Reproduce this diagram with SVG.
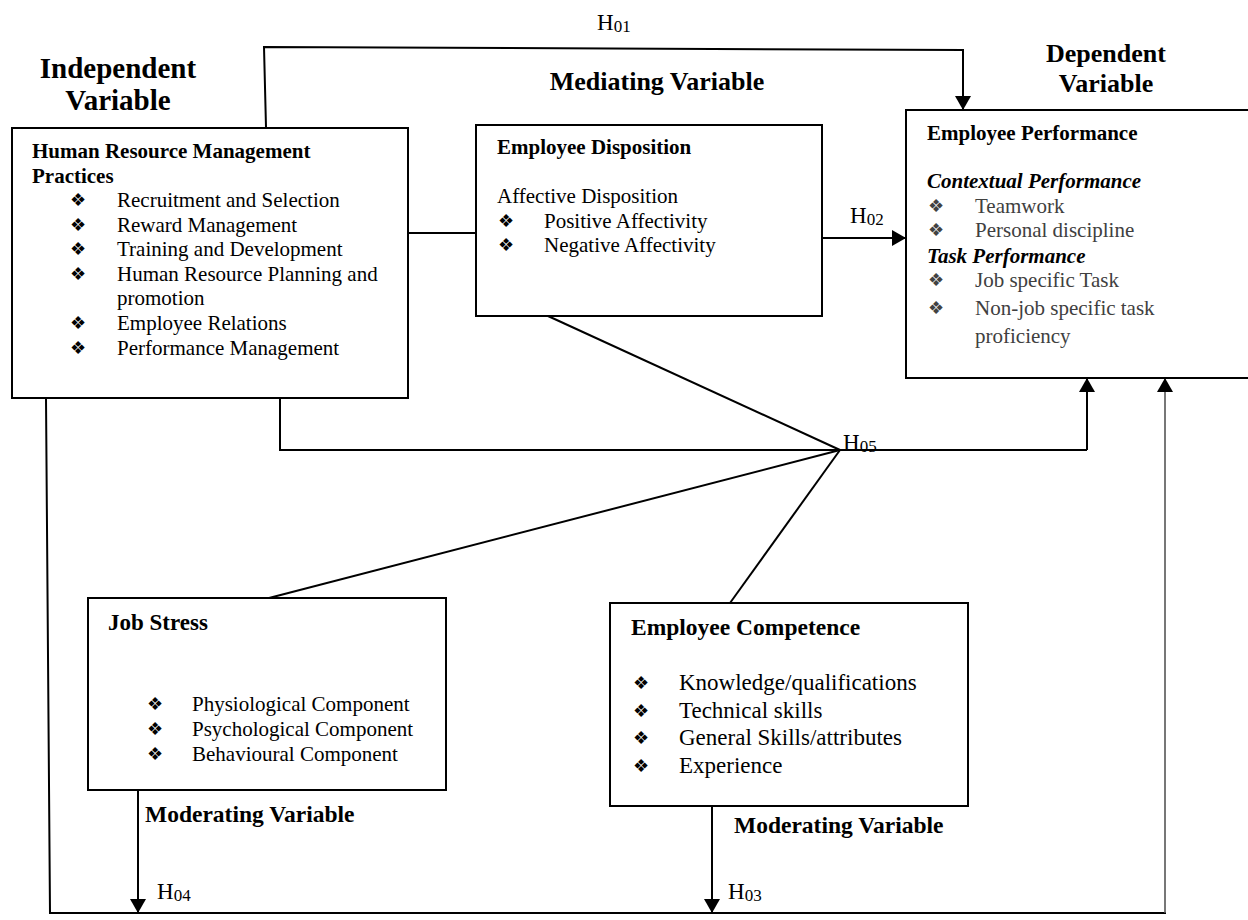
<svg xmlns="http://www.w3.org/2000/svg" width="1248" height="920" viewBox="0 0 1248 920">
<style>
text{font-family:"Liberation Serif","Times New Roman",serif;fill:#000}
.t{font-size:21px}
.b{font-weight:bold}
.bi{font-weight:bold;font-style:italic}
.g{fill:#404040}
.bul{font-family:"DejaVu Sans",sans-serif;font-size:18px;fill:#000;opacity:0.99}
.bul.g{fill:#404040}
.box{fill:#fff;stroke:#000;stroke-width:2}
.ln{fill:none;stroke:#000;stroke-width:2}
.lg{fill:none;stroke:#555;stroke-width:1.6}
.h{font-size:23px}
.sub{font-size:17px}
</style>
<defs>
<marker id="ah" viewBox="0 0 14 16" refX="14" refY="8" markerWidth="14" markerHeight="16" markerUnits="userSpaceOnUse" orient="auto">
<path d="M0,0 L14,8 L0,16 Z" fill="#000"/>
</marker>
</defs>

<g id="labels">
<text class="b" x="118" y="78" font-size="29" text-anchor="middle">Independent</text>
<text class="b" x="118" y="110" font-size="29" text-anchor="middle">Variable</text>
<text class="b" x="657" y="90" font-size="26" text-anchor="middle">Mediating Variable</text>
<text class="b" x="1106" y="62" font-size="26" text-anchor="middle">Dependent</text>
<text class="b" x="1106" y="92" font-size="26" text-anchor="middle">Variable</text>
<text class="b" x="145" y="822" font-size="23.5">Moderating Variable</text>
<text class="b" x="734" y="833" font-size="23.5">Moderating Variable</text>
<text class="h" x="597" y="30">H<tspan class="sub" dy="2">01</tspan></text>
<text class="h" x="850" y="223">H<tspan class="sub" dy="2">02</tspan></text>
<text class="h" x="843" y="450">H<tspan class="sub" dy="2">05</tspan></text>
<text class="h" x="157" y="899">H<tspan class="sub" dy="2">04</tspan></text>
<text class="h" x="728" y="899">H<tspan class="sub" dy="2">03</tspan></text>
</g>

<g id="connectors">
<polyline class="ln" points="266,127 264,47 963,50 963,110" marker-end="url(#ah)"/>
<line class="ln" x1="406" y1="233" x2="476" y2="233"/>
<line class="ln" x1="822" y1="238" x2="906" y2="238" marker-end="url(#ah)"/>
<line class="ln" x1="548" y1="316" x2="840" y2="450"/>
<polyline class="ln" points="280,398 280,450 1087,450"/>
<line class="ln" x1="1087" y1="450" x2="1087" y2="378" stroke-width="1.6" marker-end="url(#ah)"/>
<line class="ln" x1="269" y1="598" x2="840" y2="450"/>
<line class="ln" x1="730" y1="603" x2="840" y2="450" stroke-width="1.6"/>
<polyline class="ln" points="46,398 50,913 1166,913"/>
<line class="lg" x1="1165" y1="913" x2="1165" y2="378" marker-end="url(#ah)"/>
<line class="ln" x1="138" y1="790" x2="138" y2="913" marker-end="url(#ah)"/>
<line class="ln" x1="712" y1="806" x2="712" y2="913" marker-end="url(#ah)"/>
</g>

<g id="hrm">
<rect class="box" x="12" y="128" width="396" height="270"/>
<text class="t b" x="32" y="158">Human Resource Management</text>
<text class="t b" x="32" y="183">Practices</text>
<text class="bul" x="70" y="206">❖︎</text><text class="t" x="117" y="207">Recruitment and Selection</text>
<text class="bul" x="70" y="231">❖︎</text><text class="t" x="117" y="232">Reward Management</text>
<text class="bul" x="70" y="255">❖︎</text><text class="t" x="117" y="256">Training and Development</text>
<text class="bul" x="70" y="280">❖︎</text><text class="t" x="117" y="281">Human Resource Planning and</text>
<text class="t" x="117" y="305">promotion</text>
<text class="bul" x="70" y="329">❖︎</text><text class="t" x="117" y="330">Employee Relations</text>
<text class="bul" x="70" y="354">❖︎</text><text class="t" x="117" y="355">Performance Management</text>
</g>

<g id="disposition">
<rect class="box" x="476" y="125" width="346" height="191"/>
<text class="t b" x="497" y="154">Employee Disposition</text>
<text class="t" x="497" y="203">Affective Disposition</text>
<text class="bul" x="498" y="227">❖︎</text><text class="t" x="544" y="228">Positive Affectivity</text>
<text class="bul" x="498" y="251">❖︎</text><text class="t" x="544" y="252">Negative Affectivity</text>
</g>

<g id="performance">
<rect class="box" x="906" y="110" width="400" height="268"/>
<text class="t b" x="927" y="140">Employee Performance</text>
<text class="t bi" x="927" y="188">Contextual Performance</text>
<text class="bul g" x="928" y="212">❖︎</text><text class="t g" x="975" y="213">Teamwork</text>
<text class="bul g" x="928" y="236">❖︎</text><text class="t g" x="975" y="237">Personal discipline</text>
<text class="t bi" x="927" y="263">Task Performance</text>
<text class="bul g" x="928" y="286">❖︎</text><text class="t g" x="975" y="287">Job specific Task</text>
<text class="bul g" x="928" y="314">❖︎</text><text class="t g" x="975" y="315">Non-job specific task</text>
<text class="t g" x="975" y="343">proficiency</text>
</g>

<g id="jobstress">
<rect class="box" x="88" y="598" width="358" height="192"/>
<text class="b" x="108" y="630" font-size="23">Job Stress</text>
<text class="bul" x="147" y="710">❖︎</text><text class="t" x="192" y="711">Physiological Component</text>
<text class="bul" x="147" y="735">❖︎</text><text class="t" x="192" y="736">Psychological Component</text>
<text class="bul" x="147" y="760">❖︎</text><text class="t" x="192" y="761">Behavioural Component</text>
</g>

<g id="competence">
<rect class="box" x="610" y="603" width="358" height="203"/>
<text class="b" x="631" y="635" font-size="23.5">Employee Competence</text>
<text class="bul" x="633" y="689" font-size="20">❖︎</text><text x="679" y="690" font-size="23">Knowledge/qualifications</text>
<text class="bul" x="633" y="717" font-size="20">❖︎</text><text x="679" y="718" font-size="23">Technical skills</text>
<text class="bul" x="633" y="744" font-size="20">❖︎</text><text x="679" y="745" font-size="23">General Skills/attributes</text>
<text class="bul" x="633" y="772" font-size="20">❖︎</text><text x="679" y="773" font-size="23">Experience</text>
</g>
</svg>
